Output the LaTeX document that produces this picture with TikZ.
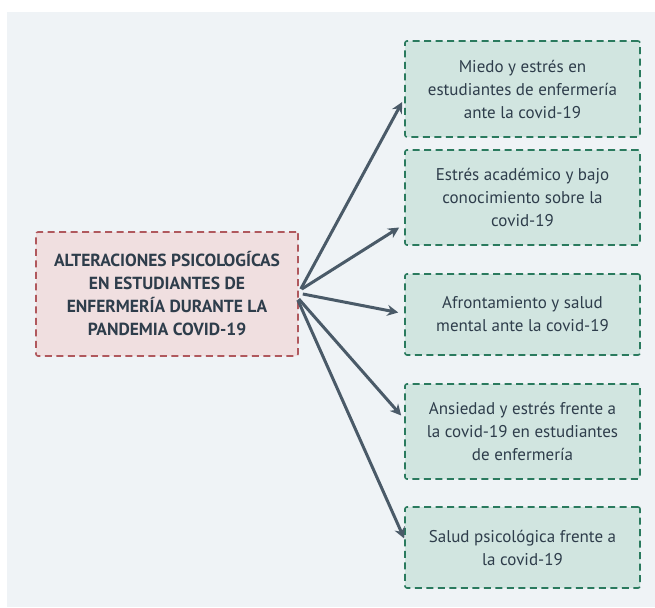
\documentclass[tikz,border=0pt]{standalone}
\usepackage{fontspec}
\setmainfont{PT Sans}
\usetikzlibrary{arrows.meta}
\definecolor{panel}{HTML}{EFF3F6}
\definecolor{inkc}{HTML}{2E3D4B}
\definecolor{arrowc}{HTML}{4A5A68}
\definecolor{redfill}{HTML}{F0DFE0}
\definecolor{redline}{HTML}{B0585D}
\definecolor{greenfill}{HTML}{D1E5E0}
\definecolor{greenline}{HTML}{2A7A5E}

\begin{document}
\begin{tikzpicture}[x=1pt,y=-1pt,
  mainbox/.style={draw=redline,fill=redfill,line width=1.6pt,dash pattern=on 7pt off 4.5pt,
    rounded corners=2pt,minimum width=262pt,minimum height=124pt,align=center,
    text=inkc,font=\fontsize{17.5}{23}\selectfont\bfseries},
  topicbox/.style={draw=greenline,fill=greenfill,line width=1.6pt,dash pattern=on 7pt off 4.5pt,
    rounded corners=2pt,minimum width=235pt,align=center,text=inkc,
    font=\fontsize{17}{23}\selectfont},
  link/.style={draw=arrowc,line width=3pt,-{Stealth[length=11pt,width=11pt]}}]
% Canvas and panel
\useasboundingbox (0,0) rectangle (655,607);
\fill[white] (0,0) rectangle (655,607);
\fill[panel] (7,12) rectangle (655,607);

% Centre
\node[mainbox] (c) at (167,294) {ALTERACIONES PSICOLOGÍCAS\\EN ESTUDIANTES DE\\ENFERMERÍA DURANTE LA\\PANDEMIA COVID-19};

% Topics
\node[topicbox,minimum height=96pt] (t1) at (522.5,89) {Miedo y estrés en\\estudiantes de enfermería\\ante la covid-19};
\node[topicbox,minimum height=95pt] (t2) at (522.5,197.5) {Estrés académico y bajo\\conocimiento sobre la\\covid-19};
\node[topicbox,minimum height=81pt] (t3) at (522.5,314.5) {Afrontamiento y salud\\mental ante la covid-19};
\node[topicbox,minimum height=95pt] (t4) at (522.5,431.5) {Ansiedad y estrés frente a\\la covid-19 en estudiantes\\de enfermería};
\node[topicbox,minimum height=81pt] (t5) at (522.5,547.5) {Salud psicológica frente a\\la covid-19};

% Links
\draw[link] ([xshift=2pt,yshift=5pt]c.east) to ([xshift=-2pt,yshift=-13pt]t1.west);
\draw[link] ([xshift=3pt,yshift=5pt]c.east) to ([xshift=-5pt,yshift=-30pt]t2.west);
\draw[link] ([xshift=4pt,yshift=0pt]c.east) to ([xshift=-6pt,yshift=2pt]t3.west);
\draw[link] ([xshift=0pt,yshift=-5pt]c.east) to ([xshift=-3pt,yshift=16pt]t4.west);
\draw[link] ([xshift=-1pt,yshift=-6pt]c.east) to ([xshift=0pt,yshift=9pt]t5.west);

\end{tikzpicture}
\end{document}
